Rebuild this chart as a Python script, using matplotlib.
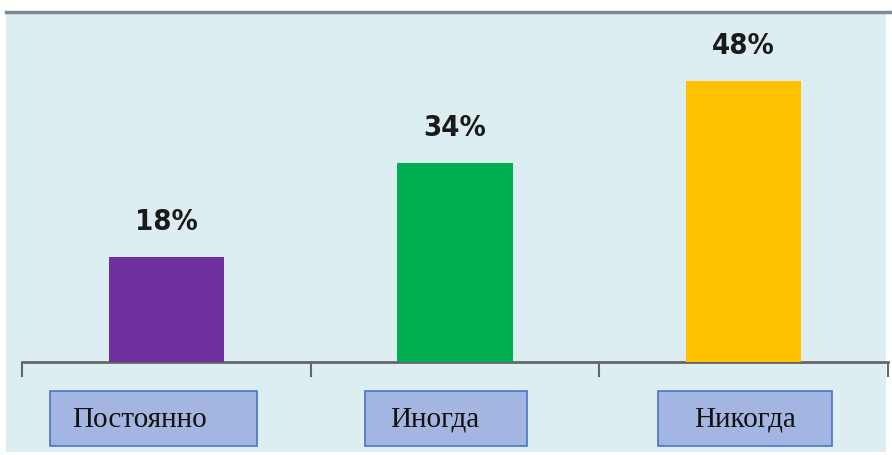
import matplotlib
matplotlib.use("Agg")
import matplotlib.pyplot as plt
from matplotlib.patches import Rectangle
from matplotlib.lines import Line2D
import matplotlib.transforms as mtransforms

# data
categories = ["Постоянно", "Иногда", "Никогда"]
values = [18, 34, 48]
bar_colors = ["#7030A0", "#00B050", "#FFC000"]

W, H = 892, 455
fig = plt.figure(figsize=(W / 100, H / 100), dpi=100)
fig.patch.set_facecolor("white")

# light panel behind everything + dark rule on top
fig.add_artist(Rectangle((6 / W, 3 / H), 880 / W, 440 / H, transform=fig.transFigure,
                         facecolor="#DDEEF3", edgecolor="none", zorder=0))
fig.add_artist(Line2D([6 / W, 1.0], [443 / H, 443 / H], transform=fig.transFigure,
                      color="#7F8A90", linewidth=2.5, zorder=1))

ax = fig.add_axes([22 / W, 93 / H, 866 / W, 350 / H])
ax.set_facecolor("none")

x = list(range(len(categories)))
bars = ax.bar(x, values, width=0.4, color=bar_colors, zorder=3)

ax.set_xlim(-0.5, len(categories) - 0.5)
ax.set_ylim(0, 59.8)

for s in ["top", "right", "left"]:
    ax.spines[s].set_visible(False)
ax.spines["bottom"].set_color("#666666")
ax.spines["bottom"].set_linewidth(2)
ax.set_yticks([])
ax.set_xticks([])
ax.set_xticks([i - 0.5 for i in range(len(categories) + 1)], minor=True)
ax.tick_params(axis="x", which="minor", length=11, width=1.5, color="#666666",
               labelbottom=False)

for rect, v in zip(bars, values):
    ax.annotate(f"{v}%", (rect.get_x() + rect.get_width() / 2, v),
                xytext=(0, 21), textcoords="offset pixels",
                ha="center", va="bottom", fontsize=21, fontweight="bold",
                family="DejaVu Sans", fontstretch="condensed", color="#1A1A1A")

# category labels in boxes below the axis (labels sit a bit left in their boxes)
text_shift = [-27, -20, 1]
box_shift = [-13, -9, 1]
trans = mtransforms.blended_transform_factory(ax.transData, fig.transFigure)
labels = []
for i, name in enumerate(categories):
    t = fig.text(i, (H - 427) / H, name,
                 transform=trans + mtransforms.Affine2D().translate(text_shift[i], 0),
                 ha="center", va="baseline", fontsize=21,
                 family=["Liberation Serif", "DejaVu Serif"], color="#111111", zorder=6)
    labels.append(t)

fig.canvas.draw()
renderer = fig.canvas.get_renderer()
for i, t in enumerate(labels):
    bb = t.get_window_extent(renderer)
    half = bb.width / 2 + 36
    cx = (bb.x0 + bb.x1) / 2 - text_shift[i] + box_shift[i]
    y0 = H - 446
    y1 = H - 391
    fig.add_artist(Rectangle(((cx - half) / W, y0 / H), 2 * half / W, (y1 - y0) / H,
                             transform=fig.transFigure, facecolor="#A3B5E1",
                             edgecolor="#4A74C6", linewidth=1.2, zorder=4))

fig.savefig("out.png", dpi=100)
